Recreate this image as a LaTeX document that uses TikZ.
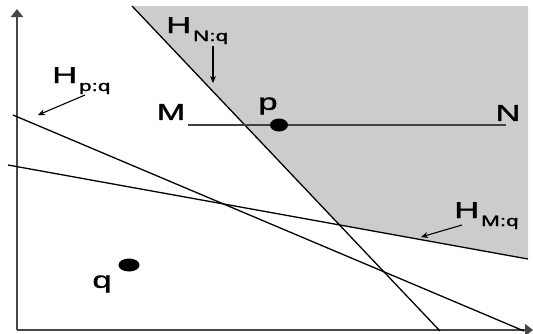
\documentclass[tikz,border=0pt]{standalone}
\usepackage{fontspec}
\setmainfont[FakeBold=1.2]{Liberation Sans}
\usetikzlibrary{arrows.meta,shapes.geometric}
\newcommand\widetext[1]{\scalebox{1.5}[1]{#1}}
\newcommand\Hlab[1]{\widetext{H}\kern2pt\raisebox{-8pt}{\fontsize{15}{15}\selectfont\widetext{#1}}}
\tikzset{
  hline/.style={line width=1.3pt, black},
  axisline/.style={line width=2.2pt, black!72, -{Triangle[length=8pt,width=12pt]}},
  segline/.style={line width=2.6pt, black!75},
  dot/.style={ellipse, fill=black, inner sep=0pt},
  lbl/.style={font=\fontsize{23}{23}\selectfont, inner sep=0pt},
  ptr/.style={line width=1.1pt, -{Stealth[length=7pt,width=6pt]}},
  region/.style={fill=black!20, draw=none}
}
\begin{document}
\begin{tikzpicture}[x=1pt,y=-1pt]
\useasboundingbox (0,0) rectangle (533,333);
% line end points
\coordinate (nA) at (132,6);
\coordinate (nB) at (440,331);
\coordinate (mA) at (8,165);
\coordinate (mB) at (528,259);
\coordinate (pA) at (13,115);
\coordinate (pB) at (524,331);
\coordinate (tr) at (528,6);
\coordinate (X) at (intersection of nA--nB and mA--mB);
% shaded region
\fill[region] (nA) -- (tr) -- (mB) -- (X) -- cycle;
% axes
\coordinate (o) at (17,330);
\coordinate (yend) at (17,9);
\coordinate (xend) at (533,330);
\draw[axisline] (o) -- (yend);
\draw[axisline] (o) -- (xend);
% half-plane boundaries
\draw[hline] (nA) -- (nB);
\draw[hline] (mA) -- (mB);
\draw[hline] (pA) -- (pB);
% segment MN
\coordinate (segM) at (188,125);
\coordinate (segN) at (506,125);
\draw[segline] (segM) -- (segN);
\node[dot, minimum width=18pt, minimum height=13pt] (p) at (279,125) {};
\node[dot, minimum width=21pt, minimum height=13pt] (q) at (129,265) {};
% labels
\node[lbl] (Mlab) at (171,112) {\widetext{M}};
\node[lbl] (Nlab) at (508,113) {\widetext{N}};
\node[lbl] (plab) at (268,106) {\widetext{p}};
\node[lbl] (qlab) at (102,284) {\widetext{q}};
\node[lbl, anchor=base west] (hN) at (166,33) {\Hlab{N:q}};
\node[lbl, anchor=base west] (hP) at (52,83) {\Hlab{p:q}};
\node[lbl, anchor=base west] (hM) at (454,218) {\Hlab{M:q}};
% pointers
\coordinate (hNs) at (213,46);
\coordinate (hNe) at (213,83);
\coordinate (hPs) at (85,95);
\coordinate (hPe) at (38,115);
\coordinate (hMs) at (462,225);
\coordinate (hMe) at (421,237);
\draw[ptr] (hNs) -- (hNe);
\draw[ptr] (hPs) -- (hPe);
\draw[ptr] (hMs) -- (hMe);
\end{tikzpicture}
\end{document}
